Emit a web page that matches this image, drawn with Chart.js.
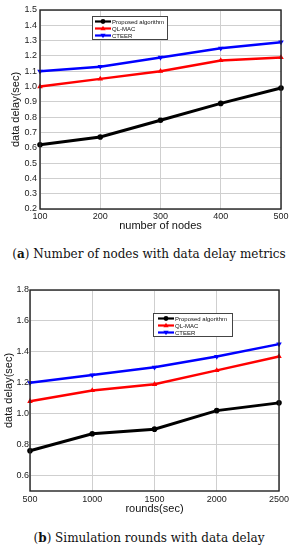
<!DOCTYPE html>
<html><head><meta charset="utf-8">
<script src="https://cdn.jsdelivr.net/npm/chart.js@4.4.1/dist/chart.umd.min.js"></script>
<style>
html,body{margin:0;padding:0;background:#fff;width:298px;height:550px;overflow:hidden}
.box{position:absolute;left:0;width:298px}
.cap{position:absolute;left:0;width:298px;text-align:center;font-family:"DejaVu Serif",serif;font-size:12px;color:#111;white-space:nowrap;line-height:16px}
</style></head><body>
<div class="box" style="top:0;height:240px"><canvas id="c1"></canvas></div>
<div class="cap" id="capA" style="top:246px">(<b>a</b>) Number of nodes with data delay metrics</div>
<div class="box" style="top:275px;height:245px"><canvas id="c2"></canvas></div>
<div class="cap" id="capB" style="top:530px">(<b>b</b>) Simulation rounds with data delay</div>
<script>
const seriesNames = ['Proposed algorithm', 'QL-MAC', 'CTEER'];

const nodesA = [100, 200, 300, 400, 500];
const proposedA = [0.62, 0.67, 0.78, 0.89, 0.99];
const qlmacA = [1.00, 1.05, 1.10, 1.17, 1.19];
const cteerA = [1.10, 1.13, 1.19, 1.25, 1.29];
const yTicksA = [0.2, 0.3, 0.4, 0.5, 0.6, 0.7, 0.8, 0.9, 1.0, 1.1, 1.2, 1.3, 1.4, 1.5];

const roundsB = [500, 1000, 1500, 2000, 2500];
const proposedB = [0.76, 0.87, 0.90, 1.02, 1.07];
const qlmacB = [1.08, 1.15, 1.19, 1.28, 1.37];
const cteerB = [1.20, 1.25, 1.30, 1.37, 1.45];
const yTicksB = [0.6, 0.8, 1.0, 1.2, 1.4, 1.6, 1.8];

const colors = ['#000000', '#ff0000', '#0000ff'];
const pStyles = ['circle', 'triangle', 'triangle'];
const pRot = [0, 0, 180];
const pRad = [2.8, 3.2, 3.2];
const lWidth = [3, 2.5, 2.5];

const SANS = '"Liberation Sans", Arial, sans-serif';

function drawMarker(ctx, style, rot, r, x, y, color) {
  ctx.save();
  ctx.fillStyle = color; ctx.strokeStyle = color;
  ctx.beginPath();
  if (style === 'circle') {
    ctx.arc(x, y, r, 0, Math.PI * 2);
  } else {
    const s = rot === 180 ? -1 : 1;
    ctx.moveTo(x, y - s * r * 1.1);
    ctx.lineTo(x - r * 1.1, y + s * r * 0.75);
    ctx.lineTo(x + r * 1.1, y + s * r * 0.75);
    ctx.closePath();
  }
  ctx.fill();
  ctx.restore();
}

const framePlugin = {
  id: 'frameLegend',
  afterDraw(chart, args, opts) {
    const ctx = chart.ctx, a = chart.chartArea;
    ctx.save();
    ctx.strokeStyle = '#222';
    ctx.lineWidth = 1.4;
    ctx.strokeRect(a.left, a.top, a.right - a.left, a.bottom - a.top);
    // legend box
    const L = opts.box;
    const bx = a.left + L.dx, by = a.top + L.dy;
    ctx.fillStyle = '#fff';
    ctx.fillRect(bx, by, L.w, L.h);
    ctx.strokeStyle = '#444';
    ctx.lineWidth = 1;
    ctx.strokeRect(bx + 0.5, by + 0.5, L.w, L.h);
    ctx.font = '6px ' + SANS;
    ctx.textBaseline = 'middle';
    ctx.textAlign = 'left';
    chart.data.datasets.forEach((ds, i) => {
      const y = by + L.row0 + i * L.step;
      ctx.strokeStyle = ds.borderColor;
      ctx.lineWidth = 2.2;
      ctx.beginPath();
      ctx.moveTo(bx + L.l0, y);
      ctx.lineTo(bx + L.l1, y);
      ctx.stroke();
      drawMarker(ctx, pStyles[i], pRot[i], 2.4, bx + (L.l0 + L.l1) / 2, y, ds.borderColor);
      ctx.fillStyle = '#111';
      ctx.fillText(ds.label, bx + L.tx, y + 0.5);
    });
    ctx.restore();
  }
};

function makeDatasets(xs, ys) {
  return ys.map((arr, i) => ({
    label: seriesNames[i],
    data: xs.map((x, k) => ({ x: x, y: arr[k] })),
    borderColor: colors[i],
    backgroundColor: colors[i],
    borderWidth: lWidth[i],
    pointStyle: pStyles[i],
    pointRotation: pRot[i],
    pointRadius: pRad[i],
    pointBorderWidth: 0,
    tension: 0,
    clip: false
  }));
}

function makeChart(id, xs, ys, xTicks, yTicks, xmin, xmax, ymin, ymax, cfg) {
  return new Chart(document.getElementById(id), {
    type: 'line',
    data: { datasets: makeDatasets(xs, ys) },
    plugins: [framePlugin],
    options: {
      responsive: true,
      maintainAspectRatio: false,
      animation: false,
      devicePixelRatio: 1,
      layout: { padding: cfg.padding },
      plugins: {
        legend: { display: false },
        tooltip: { enabled: false },
        frameLegend: { box: cfg.box }
      },
      scales: {
        x: {
          type: 'linear', min: xmin, max: xmax,
          afterBuildTicks: s => { s.ticks = xTicks.map(v => ({ value: v })); },
          afterFit: s => { s.height = cfg.xH; },
          grid: { color: '#cfcfcf', lineWidth: 1, drawTicks: false },
          border: { display: false },
          ticks: { font: { family: SANS, size: 9 }, color: '#222', padding: cfg.xPad, maxRotation: 0,
                   callback: v => String(v) },
          title: { display: true, text: cfg.xTitle, font: { family: SANS, size: 11 }, color: '#111',
                   padding: { top: 0, bottom: cfg.xTitlePad } }
        },
        y: {
          type: 'linear', min: ymin, max: ymax,
          afterBuildTicks: s => { s.ticks = yTicks.map(v => ({ value: v })); },
          afterFit: s => { s.width = cfg.yW; },
          grid: { color: '#cfcfcf', lineWidth: 1, drawTicks: false },
          border: { display: false },
          ticks: { font: { family: SANS, size: 9 }, color: '#222', padding: cfg.yPad,
                   callback: v => Number(v).toFixed(1) },
          title: { display: true, text: 'data delay(sec)', font: { family: SANS, size: 11 }, color: '#111',
                   padding: { top: cfg.yTitlePad, bottom: 0 } }
        }
      }
    }
  });
}

makeChart('c1', nodesA, [proposedA, qlmacA, cteerA], nodesA, yTicksA, 100, 500, 0.2, 1.5, {
  padding: { top: 10, right: 17, left: 0, bottom: 0 },
  xH: 31, yW: 40, xPad: 2, yPad: 3, xTitle: 'number of nodes', xTitlePad: 7, yTitlePad: 9,
  box: { dx: 52, dy: 6, w: 75, h: 23, row0: 5.5, step: 7, l0: 3, l1: 19, tx: 20 }
});

makeChart('c2', roundsB, [proposedB, qlmacB, cteerB], roundsB, yTicksB, 500, 2500, 0.5, 1.8, {
  padding: { top: 15, right: 19, left: 0, bottom: 0 },
  xH: 29, yW: 30, xPad: 3, yPad: 1, xTitle: 'rounds(sec)', xTitlePad: 4, yTitlePad: 2,
  box: { dx: 123, dy: 23, w: 79, h: 23, row0: 5.5, step: 7, l0: 5, l1: 21, tx: 22 }
});
</script>
</body></html>
